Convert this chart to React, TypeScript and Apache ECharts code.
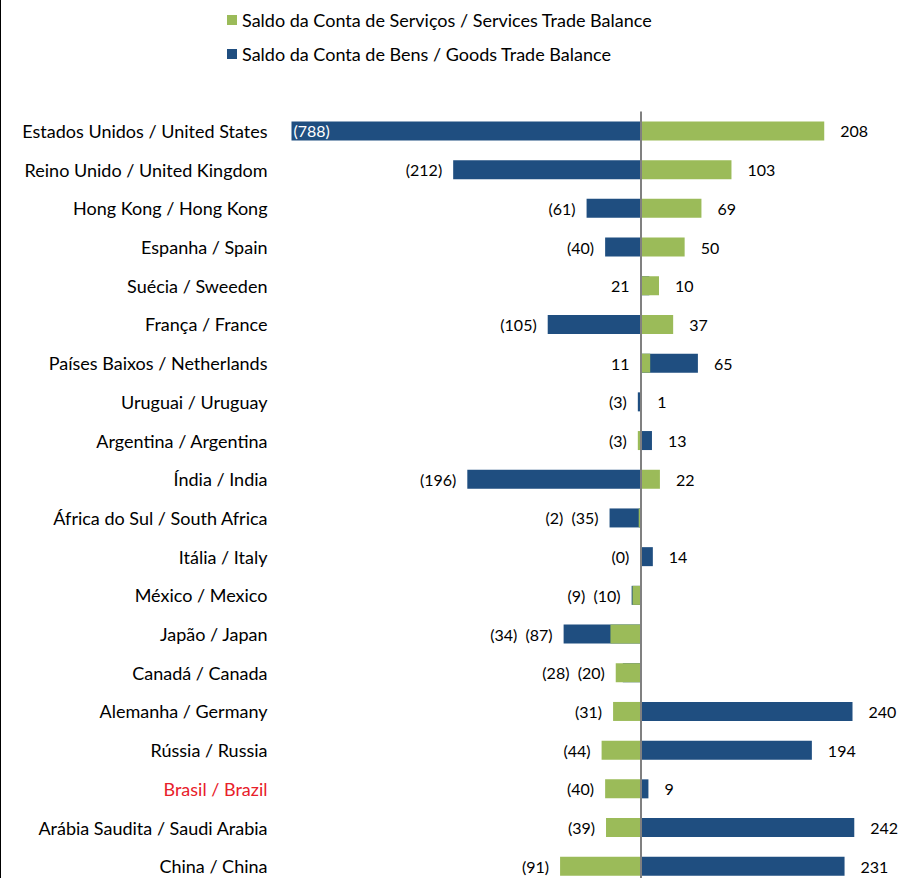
import React, { useEffect, useRef } from "react";
import * as echarts from "echarts";

const categories = [
  "Estados Unidos / United States",
  "Reino Unido / United Kingdom",
  "Hong Kong / Hong Kong",
  "Espanha / Spain",
  "Suécia / Sweeden",
  "França / France",
  "Países Baixos / Netherlands",
  "Uruguai / Uruguay",
  "Argentina / Argentina",
  "Índia / India",
  "África do Sul / South Africa",
  "Itália / Italy",
  "México / Mexico",
  "Japão / Japan",
  "Canadá / Canada",
  "Alemanha / Germany",
  "Rússia / Russia",
  "Brasil / Brazil",
  "Arábia Saudita / Saudi Arabia",
  "China / China",
];

const servicesValues = [208, 103, 69, 50, 21, 37, 11, 1, -3, 22, -2, -0.3, -9, -34, -28, -31, -44, -40, -39, -91];
const goodsValues = [-788, -212, -61, -40, 10, -105, 65, -3, 13, -196, -35, 14, -10, -87, -20, 240, 194, 9, 242, 231];

const seriesNames = [
  "Saldo da Conta de Serviços / Services Trade Balance",
  "Saldo da Conta de Bens / Goods Trade Balance",
];

const highlightCategory = "Brasil / Brazil";

const X_MIN = -395;
const X_MAX = 295;

const FONT = "Lato, 'Noto Sans', sans-serif";
const GREEN = "#9bbb59";
const BLUE = "#1f4e80";
const RED = "#e8202a";

function fmt(v: number): string {
  const r = Math.round(Math.abs(v));
  return v < 0 ? `(${r})` : `${r}`;
}

function buildLabels() {
  const base = { show: true, color: "#000", fontSize: 16, fontFamily: FONT };
  const left = (text: string, value: number) =>
    value < X_MIN
      ? { ...base, position: "insideLeft", distance: 2, color: "#fff", formatter: text }
      : { ...base, position: "left", distance: 11, formatter: text };
  const right = (text: string) => ({ ...base, position: "right", distance: 16, formatter: text });
  const hidden = { show: false };
  const sLabels: any[] = [];
  const gLabels: any[] = [];
  categories.forEach((_, i) => {
    const s = servicesValues[i];
    const g = goodsValues[i];
    let sl: any = hidden;
    let gl: any = hidden;
    if (s < 0 && g < 0) {
      const text = fmt(s) + "  " + fmt(g);
      if (s <= g) sl = left(text, s);
      else gl = left(text, g);
    } else if (s >= 0 && g >= 0) {
      if (s < g) {
        sl = left(fmt(s), s);
        gl = right(fmt(g));
      } else {
        gl = left(fmt(s), g);
        sl = right(fmt(g));
      }
    } else {
      sl = s < 0 ? left(fmt(s), s) : right(fmt(s));
      gl = g < 0 ? left(fmt(g), g) : right(fmt(g));
    }
    sLabels.push(sl);
    gLabels.push(gl);
  });
  return { sLabels, gLabels };
}

export default function App() {
  const ref = useRef<HTMLDivElement>(null);
  useEffect(() => {
    document.body.style.margin = "0";
    if (!ref.current) return;
    const chart = echarts.init(ref.current, null, { renderer: "svg" });
    const { sLabels, gLabels } = buildLabels();
    chart.setOption({
      animation: false,
      backgroundColor: "#fff",
      textStyle: { fontFamily: FONT },
      legend: {
        orient: "vertical",
        left: 222,
        top: 5,
        itemWidth: 10,
        itemHeight: 10,
        itemGap: 14,
        icon: "rect",
        data: [seriesNames[0], seriesNames[1]],
        textStyle: { fontSize: 18, lineHeight: 20, color: "#000", fontFamily: FONT },
      },
      grid: {
        left: 291.5,
        top: 111.6,
        width: 609.6,
        height: 774,
        outerBoundsMode: "none",
        containLabel: false,
      },
      xAxis: {
        type: "value",
        min: X_MIN,
        max: X_MAX,
        show: false,
      },
      yAxis: {
        type: "category",
        inverse: true,
        data: categories.map((c) =>
          c === highlightCategory ? { value: c, textStyle: { color: RED } } : c
        ),
        axisLine: { show: false, onZero: false },
        axisTick: { show: false },
        splitLine: { show: false },
        axisLabel: {
          margin: 24,
          color: "#000",
          fontSize: 18,
          fontFamily: FONT,
          padding: [0, 0, 4, 0],
        },
      },
      series: [
        {
          name: seriesNames[1],
          type: "bar",
          barWidth: 19,
          barGap: "-100%",
          itemStyle: { color: BLUE },
          data: goodsValues.map((v, i) => ({ value: v, label: gLabels[i] })),
        },
        {
          name: seriesNames[0],
          type: "bar",
          barWidth: 19,
          barGap: "-100%",
          itemStyle: { color: GREEN },
          data: servicesValues.map((v, i) => ({ value: v, label: sLabels[i] })),
          markLine: {
            silent: true,
            symbol: "none",
            label: { show: false },
            lineStyle: { color: "#808080", width: 2, type: "solid" },
            data: [{ xAxis: 0 }],
          },
        },
      ],
      graphic: [
        {
          type: "line",
          shape: { x1: 0.5, y1: 0, x2: 0.5, y2: 878 },
          style: { stroke: "#000", lineWidth: 1 },
        },
      ],
    });
    return () => chart.dispose();
  }, []);
  return <div ref={ref} style={{ width: 901, height: 878 }} />;
}
